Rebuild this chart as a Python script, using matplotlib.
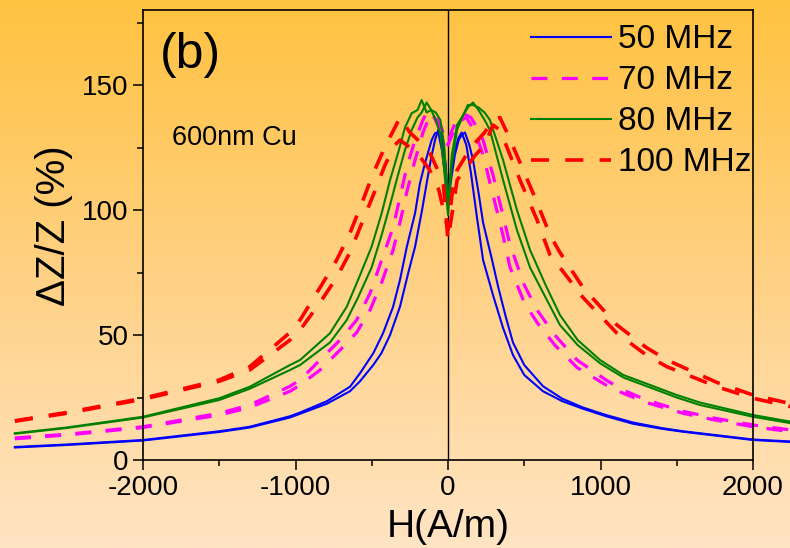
import numpy as np
import matplotlib
matplotlib.use("Agg")
import matplotlib.pyplot as plt
from matplotlib.colors import LinearSegmentedColormap

plt.rcParams['font.family'] = ['Liberation Sans', 'DejaVu Sans']
plt.rcParams['axes.unicode_minus'] = False

# field values (A/m) and dZ/Z (%), two sweep branches per frequency
h_50_a = [-2840, -2500, -2000, -1500, -1300, -1036, -970, -795, -643, -577, -490, -426,
          -360, -315, -270, -216, -184, -151, -107, -85, -64, -40, -15, 0, 20, 45, 70, 90,
          120, 150, 190, 230, 295, 360, 426, 500, 623, 750, 885, 1036, 1213, 1400, 1541,
          1750, 2000, 2250, 2840]
z_50_a = [5.2, 6.2, 8.0, 11.5, 13.3, 17.5, 19.0, 23.5, 29.3, 34.7, 42.7, 50.7,
          61.3, 72.0, 85.3, 98.7, 110.7, 118.7, 128.0, 130.7, 131.0, 124.0, 112.0, 106.0, 115.0, 124.0, 129.0, 131.0,
          126.0, 115.0, 97.0, 80.0, 66.0, 53.0, 42.0, 34.0, 27.5, 23.5, 20.5, 17.5, 14.5, 12.5, 11.3,
          9.8, 8.0, 7.2, 5.5]
h_50_b = [-2840, -2500, -2000, -1500, -1300, -1036, -970, -795, -643, -577, -490, -437,
          -380, -315, -260, -216, -170, -140, -110, -85, -64, -40, -15, 0, 20, 45, 70, 90,
          111, 140, 164, 200, 230, 289, 330, 380, 426, 500, 623, 750, 885, 1036, 1213, 1400,
          1541, 1750, 2000, 2250, 2840]
z_50_b = [5.0, 6.0, 7.8, 11.2, 13.0, 17.0, 18.5, 22.5, 27.5, 31.5, 38.0, 42.7,
          50.0, 61.3, 75.0, 85.3, 100.0, 110.7, 121.0, 128.0, 132.0, 130.0, 118.0, 104.0, 112.0, 122.0, 128.0, 130.0,
          131.0, 126.0, 120.0, 107.0, 95.0, 80.0, 69.0, 57.0, 47.0, 38.0, 29.5, 24.5, 21.0, 18.0, 15.0, 12.8,
          11.5, 10.0, 8.2, 7.4, 5.8]

h_70 = [-2840, -2500, -2000, -1500, -1300, -1036, -970, -839, -708, -599, -511, -435,
        -360, -315, -271, -216, -164, -131, -90, -50, -20, 0, 20, 50, 90, 120, 150, 190,
        230, 295, 360, 407, 500, 584, 700, 846, 1036, 1148, 1300, 1541, 1750, 2000, 2250, 2840]
z_70_a = [8.8, 10.3, 13.3, 18.7, 22.0, 29.5, 32.0, 40.0, 48.0, 56.0, 66.7, 80.0,
          93.0, 105.0, 117.0, 128.0, 136.0, 140.0, 137.0, 132.0, 128.0, 126.0, 129.0, 133.0, 136.0, 137.0, 134.0, 129.0,
          122.0, 106.0, 90.0, 77.0, 63.0, 55.0, 46.0, 37.0, 30.0, 26.7, 23.0, 18.7, 16.0, 13.3, 11.3, 9.0]
z_70_b = [8.5, 10.0, 13.0, 18.0, 21.0, 27.5, 30.0, 36.0, 44.0, 51.0, 60.0, 71.0,
          84.0, 95.0, 107.0, 120.0, 131.0, 136.0, 138.0, 134.0, 129.0, 127.0, 131.0, 135.0, 138.0, 138.0, 137.0, 133.0,
          128.0, 114.0, 98.0, 86.0, 70.0, 60.0, 50.0, 40.0, 32.0, 28.0, 24.0, 19.5, 16.7, 14.0, 12.0, 9.5]

h_80 = [-2840, -2500, -2000, -1500, -1300, -1036, -970, -774, -664, -590, -501, -435,
        -380, -328, -282, -238, -200, -173, -140, -110, -80, -50, -25, 0, 25, 59, 100, 130,
        164, 200, 240, 275, 361, 452, 538, 640, 734, 850, 997, 1150, 1325, 1500, 1652,
        2000, 2250, 2840]
z_80_a = [10.7, 13.0, 17.3, 24.7, 29.3, 38.0, 40.0, 50.7, 61.3, 72.0, 85.3, 98.7,
          112.0, 122.7, 133.0, 138.7, 140.0, 144.0, 139.0, 140.0, 136.0, 130.0, 116.0, 98.0, 118.0, 132.0, 138.0, 141.0,
          143.0, 140.0, 136.0, 132.0, 112.0, 92.0, 77.0, 65.0, 54.0, 46.0, 38.7, 33.0, 29.0, 25.0, 22.0,
          17.3, 14.7, 11.0]
z_80_b = [10.5, 12.8, 17.0, 24.0, 28.5, 36.0, 38.0, 47.0, 56.0, 65.0, 77.0, 90.0,
          102.0, 114.0, 124.0, 132.0, 137.0, 139.0, 143.0, 140.0, 139.0, 136.0, 126.0, 102.0, 122.0, 134.0, 138.0, 142.0,
          142.0, 141.0, 139.0, 136.0, 120.0, 100.0, 84.0, 70.0, 58.0, 48.0, 40.0, 34.0, 30.0, 26.0, 23.0,
          18.0, 15.3, 11.5]

h_100 = [-2840, -2500, -2000, -1500, -1300, -1036, -970, -839, -730, -643, -557, -490,
         -413, -348, -315, -250, -180, -120, -60, -30, 0, 30, 60, 120, 180, 240, 295, 340,
         387, 472, 584, 669, 734, 885, 1108, 1300, 1436, 1764, 2000, 2250, 2840]
z_100_a = [15.7, 19.0, 24.7, 32.0, 37.3, 51.0, 56.0, 69.0, 80.0, 90.7, 104.0, 114.7,
           125.3, 133.0, 137.0, 131.0, 127.0, 123.0, 115.0, 110.0, 88.0, 100.0, 112.0, 117.0, 122.0, 126.0, 134.0, 132.0,
           125.0, 112.0, 96.0, 82.0, 77.0, 65.0, 50.7, 42.0, 37.3, 29.3, 24.7, 21.3, 16.0]
z_100_b = [15.5, 18.7, 24.3, 31.5, 36.0, 48.0, 52.0, 63.0, 73.0, 83.0, 96.0, 106.0,
           118.0, 126.0, 128.0, 125.0, 121.0, 116.0, 108.0, 100.0, 92.0, 108.0, 116.0, 122.0, 127.0, 131.0, 136.0, 137.0,
           131.0, 119.0, 103.0, 90.0, 83.0, 69.0, 54.0, 45.0, 40.0, 31.0, 26.0, 22.5, 17.0]

labels = ['50 MHz', '70 MHz', '80 MHz', '100 MHz']
colors = ['#0000FF', '#FF00FF', '#008000', '#FF0000']

fig = plt.figure(figsize=(7.9, 5.48), dpi=100)

# orange gradient background
bg = fig.add_axes([0, 0, 1, 1], zorder=-10)
cmap = LinearSegmentedColormap.from_list('bg', ['#FFE4C4', '#FFD184', '#FFC240'])
bg.imshow(np.linspace(0, 1, 256).reshape(-1, 1), aspect='auto', cmap=cmap,
          origin='lower', extent=[0, 1, 0, 1])
bg.axis('off')

ax = fig.add_axes([143 / 790, 88 / 548, 610 / 790, 450 / 548])
ax.patch.set_alpha(0)

series = [(h_50_a, z_50_a, h_50_b, z_50_b), (h_70, z_70_a, h_70, z_70_b),
          (h_80, z_80_a, h_80, z_80_b), (h_100, z_100_a, h_100, z_100_b)]
styles = [dict(lw=1.5), dict(lw=2.3, ls=(0, (5, 4.5))),
          dict(lw=1.5), dict(lw=2.6, ls=(0, (5, 4.5)))]

for (ha, za, hb, zb), lab, col, st in zip(series, labels, colors, styles):
    ax.plot(ha, za, color=col, label=lab, clip_on=False, **st)
    ax.plot(hb, zb, color=col, clip_on=False, **st)

ax.axvline(0, color='black', lw=1.0, zorder=1)

ax.set_xlim(-2000, 2000)
ax.set_ylim(0, 180)
ax.set_xticks([-2000, -1000, 0, 1000, 2000])
ax.set_xticks([-1500, -500, 500, 1500], minor=True)
ax.set_yticks([0, 50, 100, 150])
ax.set_yticks([25, 75, 125, 175], minor=True)
ax.tick_params(which='major', direction='out', length=7.5, width=1.1, labelsize=20, pad=3)
ax.tick_params(which='minor', direction='out', length=4, width=1.1)
for s in ax.spines.values():
    s.set_linewidth(1.2)

ax.set_xlabel('H(A/m)', fontsize=28, labelpad=6)
ax.set_ylabel('\u0394Z/Z (%)', fontsize=29)
ax.yaxis.set_label_coords(-0.114, 0.52)

ax.text(0.027, 0.952, '(b)', transform=ax.transAxes, fontsize=36, va='top', ha='left')
ax.text(0.048, 0.715, '600nm Cu', transform=ax.transAxes, fontsize=19.5, va='center', ha='left')

ax.legend(loc='upper right', bbox_to_anchor=(1.035, 1.02), frameon=False, fontsize=24,
          handlelength=2.4, handletextpad=0.2, labelspacing=0.3, borderaxespad=0.3)

fig.savefig('out.png', dpi=100)
